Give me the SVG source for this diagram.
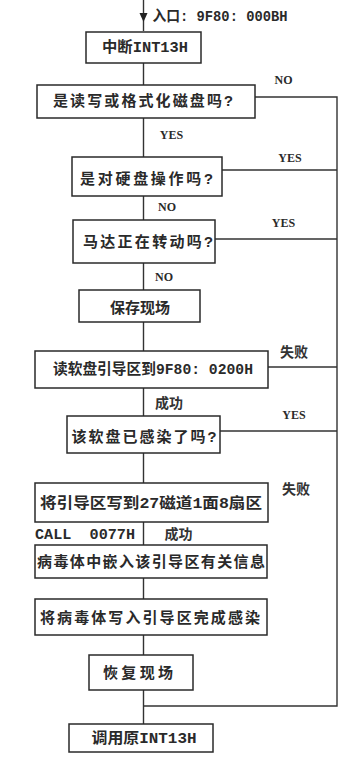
<svg xmlns="http://www.w3.org/2000/svg" width="339" height="761" viewBox="0 0 339 761">
<style>
.box{fill:#fff;stroke:#2a2a2a;stroke-width:1.5}
.ln{fill:none;stroke:#333;stroke-width:1.4}
.t{font-family:"Liberation Mono","Noto Sans CJK SC",monospace;font-weight:bold;font-size:15px;fill:#2a2a2a;text-anchor:middle}
.lb{font-family:"Liberation Serif","Noto Sans CJK SC",serif;font-weight:bold;font-size:12px;fill:#2a2a2a;text-anchor:middle}
.cn{font-family:"Noto Sans CJK SC",sans-serif;font-weight:bold;font-size:14px;fill:#333;text-anchor:middle}
</style>
<rect width="339" height="761" fill="#fff"/>
<g id="connectors">
<path class="ln" d="M143.5 0V31"/>
<polygon points="139.5,13 147.5,13 143.5,22" fill="#222"/>
<path class="ln" d="M143.5 63V85M143.5 118V157M143.5 196V220M143.5 263V290M143.5 322V351M143.5 388V416M143.5 453V483M143.5 522V545M143.5 578V599M143.5 635V655M143.5 690V724"/>
<path class="ln" d="M255 97H337V706H143.5"/>
<path class="ln" d="M222 170H337M215 239H337M268 367H337M220 431H337"/>
</g>
<text class="t" x="220" y="21" textLength="135" lengthAdjust="spacingAndGlyphs">入口: 9F80: 000BH</text>
<g id="n1"><rect class="box" x="86" y="32" width="115" height="31"/><text class="t" x="145" y="52" textLength="86" lengthAdjust="spacingAndGlyphs">中断INT13H</text></g>
<g id="n2"><rect class="box" x="37" y="85" width="218" height="33"/><text class="t" x="143" y="106" font-size="16" textLength="180" lengthAdjust="spacing">是读写或格式化磁盘吗?</text></g>
<g id="n3"><rect class="box" x="72" y="157" width="150" height="39"/><text class="t" x="146.5" y="184" textLength="133" lengthAdjust="spacing">是对硬盘操作吗?</text></g>
<g id="n4"><rect class="box" x="73" y="220" width="142" height="43"/><text class="t" x="148" y="247" textLength="130" lengthAdjust="spacing">马达正在转动吗?</text></g>
<g id="n5"><rect class="box" x="79" y="290" width="121" height="32"/><text class="t" x="140" y="313" textLength="60" lengthAdjust="spacing">保存现场</text></g>
<g id="n6"><rect class="box" x="35" y="351" width="233" height="37"/><text class="t" x="153" y="374" textLength="200" lengthAdjust="spacingAndGlyphs">读软盘引导区到9F80: 0200H</text></g>
<g id="n7"><rect class="box" x="67" y="416" width="153" height="37"/><text class="t" x="144" y="442" textLength="145" lengthAdjust="spacing">该软盘已感染了吗?</text></g>
<g id="n8"><rect class="box" x="35" y="483" width="233" height="39"/><text class="t" x="151" y="508" font-size="16" textLength="222" lengthAdjust="spacingAndGlyphs">将引导区写到27磁道1面8扇区</text></g>
<g id="n9"><rect class="box" x="35" y="545" width="232" height="33"/><text class="t" x="151" y="567" textLength="228" lengthAdjust="spacing">病毒体中嵌入该引导区有关信息</text></g>
<g id="n10"><rect class="box" x="35" y="599" width="232" height="36"/><text class="t" x="150" y="623" textLength="220" lengthAdjust="spacing">将病毒体写入引导区完成感染</text></g>
<g id="n11"><rect class="box" x="89" y="655" width="104" height="35"/><text class="t" x="138" y="678" textLength="70" lengthAdjust="spacing">恢复现场</text></g>
<g id="n12"><rect class="box" x="69" y="724" width="144" height="28"/><text class="t" x="144" y="743" textLength="105" lengthAdjust="spacingAndGlyphs">调用原INT13H</text></g>
<g id="labels">
<text class="lb" x="283.5" y="84">NO</text>
<text class="lb" x="171.5" y="139">YES</text>
<text class="lb" x="290" y="162">YES</text>
<text class="lb" x="167" y="211">NO</text>
<text class="lb" x="283.5" y="227" fill="#666">YES</text>
<text class="lb" x="164" y="281">NO</text>
<text class="cn" x="294" y="357">失败</text>
<text class="cn" x="169" y="408">成功</text>
<text class="lb" x="294" y="419">YES</text>
<text class="cn" x="296" y="494">失败</text>
<text class="t" x="85" y="539" font-size="13" font-weight="normal" style="white-space:pre" textLength="100" lengthAdjust="spacingAndGlyphs">CALL  0077H</text>
<text class="cn" x="178.5" y="539">成功</text>
</g>
</svg>
